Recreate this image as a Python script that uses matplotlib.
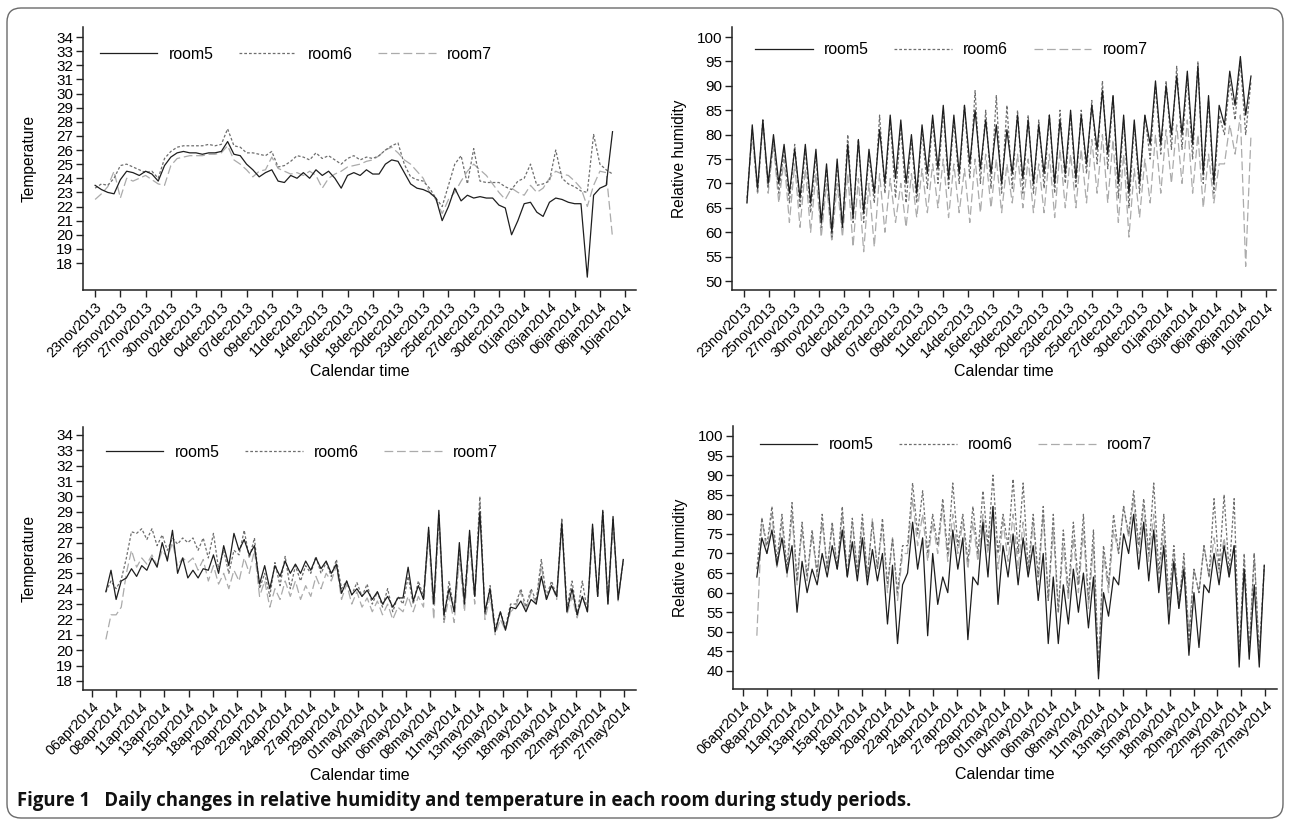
import numpy as np
import matplotlib
matplotlib.use('Agg')
import matplotlib.pyplot as plt
from matplotlib.patches import FancyBboxPatch

plt.rcParams['font.family'] = ['Liberation Sans', 'DejaVu Sans']
narrow = ['Liberation Sans Narrow', 'Liberation Sans']

# tick labels of the two study periods
winter_days = ['23nov2013', '25nov2013', '27nov2013', '30nov2013', '02dec2013', '04dec2013',
               '07dec2013', '09dec2013', '11dec2013', '14dec2013', '16dec2013', '18dec2013',
               '20dec2013', '23dec2013', '25dec2013', '27dec2013', '30dec2013', '01jan2014',
               '03jan2014', '06jan2014', '08jan2014', '10jan2014']
spring_days = ['06apr2014', '08apr2014', '11apr2014', '13apr2014', '15apr2014', '18apr2014',
               '20apr2014', '22apr2014', '24apr2014', '27apr2014', '29apr2014', '01may2014',
               '04may2014', '06may2014', '08may2014', '11may2014', '13may2014', '15may2014',
               '18may2014', '20may2014', '22may2014', '25may2014', '27may2014']

# winter temperature, read every quarter tick
tw_room5 = [23.5, 23.2, 23.0, 22.9, 23.9, 24.5, 24.4, 24.2, 24.5, 24.3,
            23.8, 24.9, 25.5, 25.8, 25.9, 25.8, 25.8, 25.7, 25.8, 25.8,
            25.9, 26.6, 25.7, 25.6, 25.0, 24.6, 24.1, 24.4, 24.6, 23.8,
            23.7, 24.2, 24.0, 24.4, 24.0, 24.6, 24.2, 24.5, 24.0, 23.3,
            24.2, 24.4, 24.2, 24.6, 24.3, 24.3, 25.0, 25.3, 25.2, 24.4,
            23.6, 23.3, 23.2, 23.0, 22.6, 21.0, 22.0, 23.3, 22.4, 22.8,
            22.6, 22.7, 22.6, 22.6, 22.1, 21.9, 20.0, 21.0, 22.2, 22.3,
            21.6, 21.3, 22.3, 22.6, 22.5, 22.3, 22.2, 22.2, 17.0, 22.8,
            23.3, 23.5, 27.3]
tw_room6 = [23.3, 23.6, 23.5, 24.0, 24.9, 25.0, 24.8, 24.6, 24.4, 24.5,
            24.0, 25.4, 25.9, 26.2, 26.3, 26.3, 26.3, 26.3, 26.4, 26.3,
            26.4, 27.5, 26.3, 26.2, 25.8, 25.8, 25.7, 25.6, 25.9, 24.8,
            24.9, 25.2, 25.6, 25.5, 25.3, 25.8, 25.4, 25.6, 25.3, 25.0,
            25.4, 25.6, 25.3, 25.5, 25.4, 25.6, 26.0, 26.3, 26.5, 25.0,
            24.1, 23.9, 23.8, 23.3, 22.6, 22.0, 23.5, 25.0, 25.6, 23.6,
            26.1, 23.8, 23.7, 23.7, 23.7, 23.4, 23.2, 23.8, 24.0, 25.0,
            23.5, 23.6, 23.8, 26.0, 24.0, 23.6, 23.4, 23.1, 23.0, 27.1,
            25.0, 24.6, 24.3]
tw_room7 = [22.5, 22.9, 23.4, 24.5, 22.6, 24.0, 23.8, 24.0, 24.2, 23.9,
            23.6, 23.5, 24.9, 25.4, 25.5, 25.6, 25.6, 25.6, 25.7, 25.7,
            25.8, 26.3, 25.3, 25.0, 24.6, 24.1, 24.5, 24.6, 25.5, 24.7,
            24.5, 24.3, 24.4, 24.2, 24.5, 24.2, 23.3, 24.0, 24.3, 24.5,
            24.8, 24.9, 25.0, 25.2, 25.3, 25.6, 26.0, 26.2, 25.8, 25.3,
            25.0, 24.5, 24.0, 23.0, 22.5, 21.5, 22.5, 23.0, 23.8, 24.5,
            25.0, 24.6, 24.2, 23.6, 23.0, 22.5, 23.3, 23.0, 22.8, 23.5,
            23.0, 23.3, 24.0, 24.5, 24.3, 24.2, 23.8, 23.3, 22.0, 23.5,
            24.5, 24.4, 19.8]

# winter humidity, daily min / max
hw_room5_min = [66, 69, 70, 70, 68, 67, 66, 62, 60, 61, 63, 64, 68, 70, 71, 70, 68, 72, 73, 71,
                72, 74, 73, 72, 70, 72, 71, 70, 72, 70, 72, 71, 74, 77, 76, 70, 68, 70, 78, 78,
                80, 80, 78, 72, 70, 82, 86, 84]
hw_room5_max = [82, 83, 80, 78, 77, 78, 77, 74, 75, 78, 79, 77, 81, 84, 83, 80, 82, 84, 86, 84,
                86, 85, 83, 82, 81, 84, 83, 82, 84, 83, 85, 84, 86, 89, 88, 84, 83, 84, 91, 90,
                92, 93, 94, 88, 86, 93, 96, 92]
hw_room6_min = [67, 68, 69, 68, 66, 65, 64, 61, 59, 61, 62, 62, 66, 68, 67, 66, 66, 69, 70, 69,
                70, 71, 70, 69, 68, 69, 68, 68, 69, 68, 70, 69, 72, 74, 73, 67, 65, 68, 75, 76,
                77, 77, 75, 70, 68, 80, 83, 80]
hw_room6_max = [81, 83, 79, 77, 78, 77, 76, 73, 74, 80, 79, 76, 84, 83, 82, 79, 81, 83, 85, 83,
                86, 89, 85, 88, 86, 85, 84, 83, 84, 85, 84, 85, 87, 91, 88, 83, 82, 84, 90, 91,
                94, 92, 95, 87, 84, 91, 95, 91]
hw_room7_min = [66, 68, 68, 66, 62, 61, 60, 59, 58, 59, 57, 56, 57, 60, 62, 61, 63, 64, 65, 63,
                64, 62, 64, 65, 64, 66, 65, 64, 64, 63, 65, 65, 66, 68, 66, 62, 59, 63, 66, 68,
                70, 70, 68, 65, 66, 74, 76, 53]
hw_room7_max = [80, 82, 78, 75, 74, 73, 72, 70, 70, 72, 71, 70, 72, 71, 70, 72, 73, 74, 75, 74,
                73, 75, 76, 75, 74, 76, 75, 74, 76, 77, 76, 77, 79, 80, 79, 76, 73, 75, 80, 81,
                82, 83, 80, 76, 74, 82, 84, 80]

# spring temperature, daily min / max
ts_room5_min = [23.8, 23.3, 24.7, 24.8, 25.2, 25.4, 25.8, 25.0, 24.7, 24.7,
                25.2, 25.0, 25.5, 26.5, 26.2, 24.3, 24.0, 24.8, 25.0, 25.0,
                25.2, 25.3, 25.0, 23.7, 23.6, 23.5, 23.3, 23.0, 22.8, 23.4,
                23.2, 23.3, 23.0, 22.3, 22.5, 23.0, 23.5, 22.5, 21.2, 21.3,
                22.7, 22.5, 23.0, 23.3, 23.5, 22.5, 22.3, 22.5, 23.5, 23.0, 23.3]
ts_room5_max = [25.2, 24.5, 25.3, 25.5, 26.0, 27.0, 27.8, 26.0, 25.2, 25.3,
                26.2, 26.8, 27.6, 27.2, 26.8, 25.5, 25.5, 25.8, 25.6, 25.8,
                26.0, 25.8, 25.6, 24.5, 24.0, 23.9, 23.8, 23.5, 23.4, 25.4,
                24.2, 28.0, 29.1, 24.0, 27.0, 27.8, 29.0, 24.0, 22.5, 22.8,
                23.2, 23.3, 24.8, 24.2, 28.3, 24.0, 23.5, 28.2, 29.1, 28.7, 25.9]
ts_room6_min = [23.8, 24.0, 26.0, 27.6, 27.2, 26.8, 26.5, 26.9, 27.0, 26.5,
                26.0, 25.3, 25.0, 26.2, 26.0, 24.0, 23.5, 24.2, 24.0, 24.5,
                25.0, 25.0, 24.8, 24.0, 23.6, 23.5, 23.0, 22.8, 22.5, 23.0,
                23.0, 23.5, 23.0, 22.0, 22.5, 23.5, 23.5, 22.3, 21.4, 21.5,
                23.0, 22.8, 23.2, 23.5, 23.5, 22.8, 22.3, 22.5, 23.5, 23.2, 23.5]
ts_room6_max = [24.5, 24.6, 27.7, 27.9, 27.9, 27.5, 27.3, 27.3, 27.3, 27.3,
                27.6, 26.5, 26.5, 27.8, 27.3, 25.0, 25.7, 26.1, 25.5, 25.5,
                26.1, 25.7, 25.9, 24.5, 24.4, 24.3, 23.8, 24.0, 23.5, 24.8,
                24.5, 27.8, 28.8, 24.5, 26.5, 27.5, 30.0, 24.2, 22.5, 23.0,
                24.0, 24.0, 25.9, 24.5, 28.6, 24.5, 24.5, 28.0, 29.0, 28.5, 25.8]
ts_room7_min = [20.7, 22.3, 25.0, 25.4, 25.6, 25.5, 26.0, 25.5, 25.7, 25.2,
                24.5, 24.3, 24.0, 24.5, 25.0, 23.5, 22.8, 23.3, 23.5, 23.3,
                23.5, 24.0, 24.5, 23.3, 23.0, 22.8, 22.5, 22.3, 22.0, 22.5,
                22.5, 22.8, 22.0, 21.8, 21.8, 22.5, 23.0, 22.0, 21.0, 21.3,
                22.8, 22.5, 23.0, 23.3, 23.3, 22.3, 22.1, 22.5, 23.5, 23.0, 23.2]
ts_room7_max = [22.3, 22.8, 26.5, 26.0, 26.2, 26.5, 27.0, 26.0, 26.0, 25.9,
                25.5, 25.0, 25.2, 26.0, 26.5, 24.5, 24.0, 24.5, 24.5, 24.2,
                24.8, 25.0, 25.5, 24.3, 23.8, 23.4, 23.2, 23.0, 22.8, 23.5,
                23.5, 27.5, 28.5, 23.5, 26.0, 27.0, 29.5, 23.5, 22.0, 22.5,
                23.8, 23.8, 25.5, 24.3, 28.0, 23.5, 23.5, 27.5, 28.5, 28.0, 25.9]

# spring humidity, daily min / max
hs_room5_min = [64, 70, 67, 65, 55, 60, 62, 64, 66, 64, 63, 62, 63, 52, 47, 65, 66, 49, 57, 60,
                66, 48, 62, 64, 57, 64, 62, 64, 58, 47, 47, 52, 55, 51, 38, 54, 62, 70, 66, 63,
                60, 52, 56, 44, 46, 60, 62, 64, 41, 43, 41]
hs_room5_max = [74, 76, 74, 72, 68, 66, 70, 72, 76, 73, 74, 71, 70, 67, 62, 78, 74, 70, 64, 76,
                74, 64, 78, 82, 72, 75, 74, 72, 70, 64, 62, 66, 65, 64, 60, 64, 75, 80, 78, 76,
                72, 68, 66, 60, 62, 70, 72, 72, 66, 62, 67]
hs_room6_min = [66, 72, 68, 66, 63, 64, 65, 66, 66, 64, 65, 64, 66, 62, 60, 72, 75, 70, 72, 70,
                72, 68, 70, 72, 70, 72, 70, 66, 64, 58, 55, 60, 62, 58, 40, 62, 70, 75, 72, 70,
                65, 58, 56, 48, 60, 64, 66, 65, 44, 45, 44]
hs_room6_max = [79, 82, 80, 83, 78, 76, 80, 78, 82, 79, 80, 78, 79, 74, 72, 88, 86, 80, 84, 88,
                80, 82, 86, 90, 80, 89, 88, 80, 82, 80, 76, 78, 80, 76, 72, 80, 82, 86, 84, 88,
                80, 72, 70, 66, 72, 84, 85, 84, 70, 70, 67]
hs_room7_min = [49, 70, 66, 64, 62, 63, 64, 66, 66, 64, 65, 64, 66, 60, 58, 70, 72, 68, 70, 68,
                70, 66, 68, 70, 66, 68, 66, 64, 62, 58, 55, 58, 60, 56, 41, 60, 70, 74, 70, 68,
                62, 56, 58, 50, 60, 64, 65, 64, 45, 45, 44]
hs_room7_max = [79, 80, 78, 80, 76, 75, 78, 77, 80, 78, 78, 79, 77, 74, 70, 84, 80, 78, 82, 80,
                78, 78, 80, 82, 78, 80, 78, 78, 80, 76, 72, 74, 76, 72, 70, 76, 82, 84, 82, 80,
                76, 70, 68, 66, 72, 74, 74, 72, 68, 70, 66]

rooms = ['room5', 'room6', 'room7']
colors = ['#1e1e1e', '#6e6e6e', '#ababab']
dashes = ['-', (0, (2.2, 1.6)), (0, (7, 3))]
zorders = [4, 3, 2]


def daily(lo, hi, t0, t1):
    # one low and one high reading per day, spread over the period
    n = len(lo)
    pos = np.repeat(np.arange(n), 2) + np.tile([0.25, 0.75], n)
    x = t0 + pos * (t1 - t0) / n
    y = np.column_stack([lo, hi]).ravel()
    return x, y


def setup(ax, labels, xlim, ylim, yticks, ylabel, xlab_y, leg_pos):
    for s in ['top', 'right']:
        ax.spines[s].set_visible(False)
    for s in ['left', 'bottom']:
        ax.spines[s].set_color('#222222')
        ax.spines[s].set_linewidth(1.1)
    ax.set_xlim(xlim)
    ax.set_ylim(ylim)
    ax.set_xticks(range(len(labels)))
    ax.set_xticklabels(labels, rotation=45, ha='right', rotation_mode='anchor',
                       fontsize=10.3, family=narrow)
    ax.set_yticks(yticks)
    ax.set_yticklabels([str(v) for v in yticks], fontsize=11, family=narrow)
    ax.tick_params(direction='out', length=5, width=1.0, color='#222222', pad=2)
    ax.set_ylabel(ylabel, fontsize=11.2)
    ax.yaxis.set_label_coords(-0.083, 0.5)
    ax.set_xlabel('Calendar time', fontsize=11.5)
    ax.xaxis.set_label_coords(0.5, xlab_y)
    ax.xaxis.label.set_va('top')
    ax.legend(loc='upper left', bbox_to_anchor=leg_pos, ncol=3, frameon=False, fontsize=11.4,
              handlelength=3.65, handletextpad=0.7, columnspacing=1.6, borderpad=0,
              borderaxespad=0)


def draw(ax, series):
    for (x, y), name, c, ls, z in zip(series, rooms, colors, dashes, zorders):
        ax.plot(x, y, color=c, linestyle=ls, linewidth=0.9, label=name, zorder=z)


fig = plt.figure(figsize=(12.9, 8.27), dpi=100)

# frame and caption
bg = fig.add_axes([0, 0, 1, 1])
bg.set_xlim(0, 1290)
bg.set_ylim(827, 0)
bg.axis('off')
bg.add_patch(FancyBboxPatch((7, 8), 1276, 810, boxstyle='round,pad=0,rounding_size=14',
                            fill=False, edgecolor='#6a6a6a', linewidth=1.0))
bg.text(17, 801, 'Figure 1   Daily changes in relative humidity and temperature in each room during study periods.',
        fontsize=13.35, fontweight='bold', family='Open Sans', va='center', ha='left', color='#111111')

W = 1290.0
H = 827.0
ax1 = fig.add_axes([83 / W, 1 - 290 / H, 553 / W, 263 / H])
ax2 = fig.add_axes([732 / W, 1 - 290 / H, 544 / W, 263 / H])
ax3 = fig.add_axes([83 / W, 1 - 690 / H, 553 / W, 263 / H])
ax4 = fig.add_axes([733 / W, 1 - 689 / H, 544 / W, 263 / H])

# top left: winter temperature
tx = np.linspace(0, 20.5, len(tw_room5))
draw(ax1, [(tx, tw_room5), (tx, tw_room6), (tx, tw_room7)])
setup(ax1, winter_days, (-0.48, 21.43), (16.09, 34.71), list(range(18, 35)), 'Temperature',
      -0.281, (0.030, 0.925))

# top right: winter humidity
draw(ax2, [daily(hw_room5_min, hw_room5_max, 0, 20.5),
           daily(hw_room6_min, hw_room6_max, 0, 20.5),
           daily(hw_room7_min, hw_room7_max, 0, 20.5)])
setup(ax2, winter_days, (-0.495, 21.40), (48.16, 102.05), list(range(50, 101, 5)),
      'Relative humidity', -0.281, (0.043, 0.942))

# bottom left: spring temperature
draw(ax3, [daily(ts_room5_min, ts_room5_max, 0.47, 22.08),
           daily(ts_room6_min, ts_room6_max, 0.47, 22.08),
           daily(ts_room7_min, ts_room7_max, 0.47, 22.08)])
setup(ax3, spring_days, (-0.37, 22.5), (17.41, 34.52), list(range(18, 35)), 'Temperature',
      -0.297, (0.041, 0.933))

# bottom right: spring humidity
draw(ax4, [daily(hs_room5_min, hs_room5_max, 0.47, 22.08),
           daily(hs_room6_min, hs_room6_max, 0.47, 22.08),
           daily(hs_room7_min, hs_room7_max, 0.47, 22.08)])
setup(ax4, spring_days, (-0.43, 22.51), (35.4, 102.55), list(range(40, 101, 5)),
      'Relative humidity', -0.297, (0.049, 0.957))

fig.savefig('out.png', dpi=100)
